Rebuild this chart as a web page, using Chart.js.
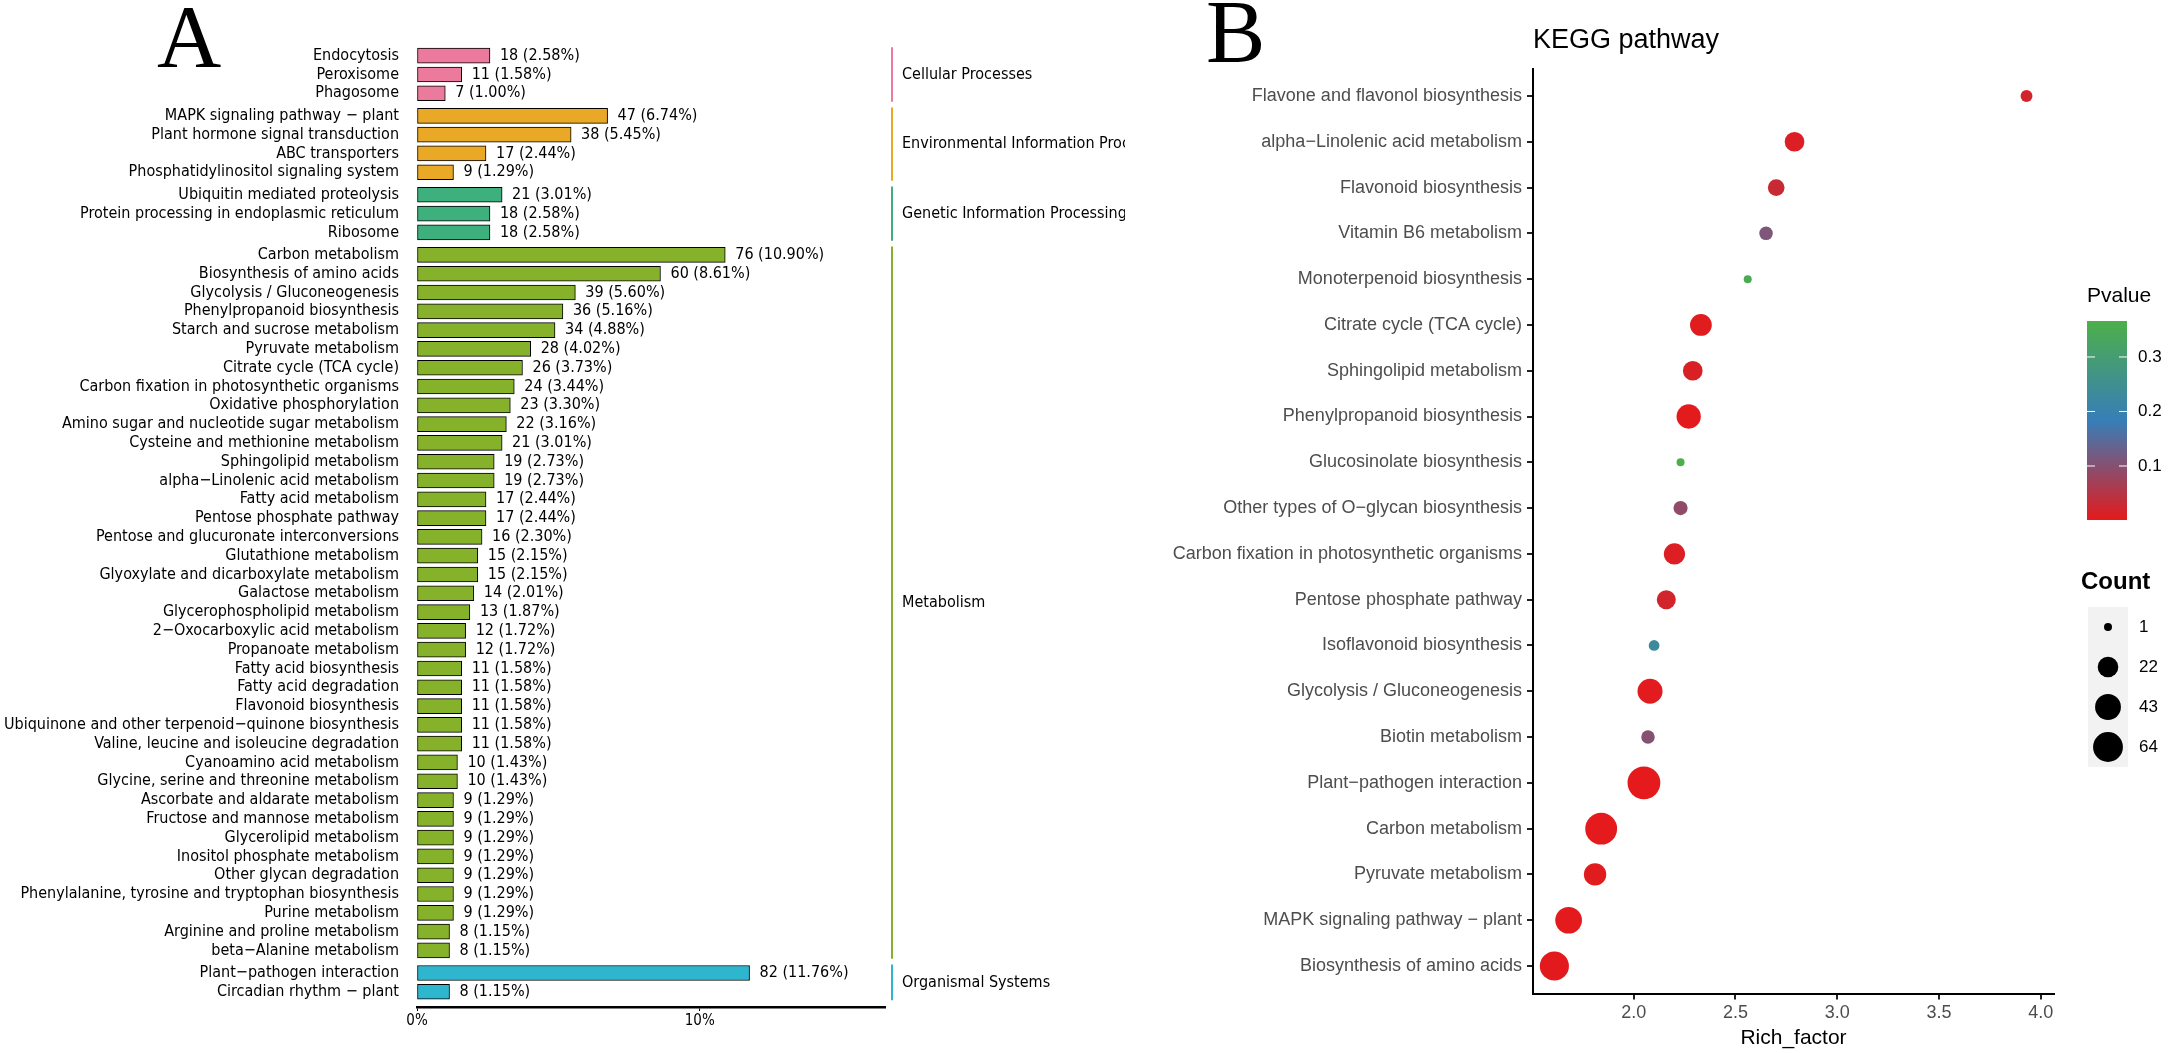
<!DOCTYPE html>
<html>
<head>
<meta charset="utf-8">
<script src="https://cdn.jsdelivr.net/npm/chart.js@4.4.1/dist/chart.umd.min.js"></script>
<style>
  html, body { margin: 0; padding: 0; background: #fff; width: 2168px; height: 1053px; overflow: hidden; }
  #wrapA { position: absolute; left: 0; top: 0; width: 1125px; height: 1053px; }
  #wrapB { position: absolute; left: 1100px; top: 0; width: 1068px; height: 1053px; }
  .tag { position: absolute; font-family: 'Liberation Serif', 'Times New Roman', serif; font-size: 89px; line-height: 89px; color: #000; }
</style>
</head>
<body>
<div id="wrapA"><canvas id="chartA" width="1125" height="1053"></canvas></div>
<div id="wrapB"><canvas id="chartB" width="1068" height="1053"></canvas></div>
<div class="tag" style="left:157px;top:-8px">A</div>
<div class="tag" style="left:1206px;top:-13px">B</div>

<script>
// ---- panel A: KEGG classification ----
const groupNames = ["Cellular Processes", "Environmental Information Processing",
  "Genetic Information Processing", "Metabolism", "Organismal Systems"];
const groupSizes = [3, 4, 3, 38, 2];
const pathwaysA = [
  "Endocytosis", "Peroxisome", "Phagosome",
  "MAPK signaling pathway − plant", "Plant hormone signal transduction", "ABC transporters",
  "Phosphatidylinositol signaling system",
  "Ubiquitin mediated proteolysis", "Protein processing in endoplasmic reticulum", "Ribosome",
  "Carbon metabolism", "Biosynthesis of amino acids", "Glycolysis / Gluconeogenesis",
  "Phenylpropanoid biosynthesis", "Starch and sucrose metabolism", "Pyruvate metabolism",
  "Citrate cycle (TCA cycle)", "Carbon fixation in photosynthetic organisms",
  "Oxidative phosphorylation", "Amino sugar and nucleotide sugar metabolism",
  "Cysteine and methionine metabolism", "Sphingolipid metabolism",
  "alpha−Linolenic acid metabolism", "Fatty acid metabolism", "Pentose phosphate pathway",
  "Pentose and glucuronate interconversions", "Glutathione metabolism",
  "Glyoxylate and dicarboxylate metabolism", "Galactose metabolism",
  "Glycerophospholipid metabolism", "2−Oxocarboxylic acid metabolism",
  "Propanoate metabolism", "Fatty acid biosynthesis", "Fatty acid degradation",
  "Flavonoid biosynthesis", "Ubiquinone and other terpenoid−quinone biosynthesis",
  "Valine, leucine and isoleucine degradation", "Cyanoamino acid metabolism",
  "Glycine, serine and threonine metabolism", "Ascorbate and aldarate metabolism",
  "Fructose and mannose metabolism", "Glycerolipid metabolism", "Inositol phosphate metabolism",
  "Other glycan degradation", "Phenylalanine, tyrosine and tryptophan biosynthesis",
  "Purine metabolism", "Arginine and proline metabolism", "beta−Alanine metabolism",
  "Plant−pathogen interaction", "Circadian rhythm − plant"
];
const countsA = [18, 11, 7, 47, 38, 17, 9, 21, 18, 18,
  76, 60, 39, 36, 34, 28, 26, 24, 23, 22, 21, 19, 19, 17, 17, 16, 15, 15, 14, 13,
  12, 12, 11, 11, 11, 11, 11, 10, 10, 9, 9, 9, 9, 9, 9, 9, 8, 8,
  82, 8];
const percentsA = [2.58, 1.58, 1.00, 6.74, 5.45, 2.44, 1.29, 3.01, 2.58, 2.58,
  10.90, 8.61, 5.60, 5.16, 4.88, 4.02, 3.73, 3.44, 3.30, 3.16, 3.01, 2.73, 2.73, 2.44, 2.44,
  2.30, 2.15, 2.15, 2.01, 1.87, 1.72, 1.72, 1.58, 1.58, 1.58, 1.58, 1.58, 1.43, 1.43,
  1.29, 1.29, 1.29, 1.29, 1.29, 1.29, 1.29, 1.15, 1.15,
  11.76, 1.15];
const xTicksA = [0, 10];

// ---- panel B: KEGG enrichment ----
const pathwaysB = [
  "Flavone and flavonol biosynthesis", "alpha−Linolenic acid metabolism",
  "Flavonoid biosynthesis", "Vitamin B6 metabolism", "Monoterpenoid biosynthesis",
  "Citrate cycle (TCA cycle)", "Sphingolipid metabolism", "Phenylpropanoid biosynthesis",
  "Glucosinolate biosynthesis", "Other types of O−glycan biosynthesis",
  "Carbon fixation in photosynthetic organisms", "Pentose phosphate pathway",
  "Isoflavonoid biosynthesis", "Glycolysis / Gluconeogenesis", "Biotin metabolism",
  "Plant−pathogen interaction", "Carbon metabolism", "Pyruvate metabolism",
  "MAPK signaling pathway − plant", "Biosynthesis of amino acids"
];
const richFactor = [3.93, 2.79, 2.70, 2.65, 2.56, 2.33, 2.29, 2.27, 2.23, 2.23,
  2.20, 2.16, 2.10, 2.08, 2.07, 2.05, 1.84, 1.81, 1.68, 1.61];
const countB = [3, 19, 11, 5, 1, 26, 19, 36, 1, 6, 24, 17, 2, 39, 5, 82, 76, 28, 47, 60];
const pvalueB = [0.02, 0.01, 0.03, 0.11, 0.35, 0.004, 0.012, 0.002, 0.366, 0.09,
  0.008, 0.02, 0.23, 0.003, 0.1, 0.0009, 0.0012, 0.004, 0.002, 0.0015];
const xTicksB = [2.0, 2.5, 3.0, 3.5, 4.0];
const pTicks = [0.1, 0.2, 0.3];
const countBreaks = [1, 22, 43, 64];

// ---- styles ----
const groupColors = ["#EC7A9C", "#E9A825", "#3DB07D", "#86B12B", "#2FB6CF"];
const condensed = "'DejaVu Sans Condensed', 'Liberation Sans Narrow', sans-serif";
const arial = "'Liberation Sans', Arial, sans-serif";
const GAP = 0.2;

const groupA = [];
groupSizes.forEach((n, g) => { for (let k = 0; k < n; k++) groupA.push(g); });
const rowPos = pathwaysA.map((_, i) => i + groupA[i] * GAP);

const barLabelsA = {
  id: 'barLabelsA',
  afterDatasetsDraw(chart) {
    const ctx = chart.ctx;
    const meta = chart.getDatasetMeta(0);
    ctx.save();
    ctx.font = '16px ' + condensed;
    ctx.fillStyle = '#000';
    ctx.textBaseline = 'middle';
    meta.data.forEach((bar, i) => {
      ctx.fillText(countsA[i] + ' (' + percentsA[i].toFixed(2) + '%)', bar.x + 10, bar.y);
    });
    const ys = chart.scales.y;
    const right = chart.chartArea.right;
    let start = 0;
    groupSizes.forEach((n, g) => {
      const y0 = ys.getPixelForValue(rowPos[start] - 0.5) + 1;
      const y1 = ys.getPixelForValue(rowPos[start + n - 1] + 0.5) - 1;
      ctx.strokeStyle = groupColors[g];
      ctx.lineWidth = 2;
      ctx.beginPath();
      ctx.moveTo(right + 7, y0);
      ctx.lineTo(right + 7, y1);
      ctx.stroke();
      ctx.fillStyle = '#000';
      ctx.textAlign = 'left';
      ctx.fillText(groupNames[g], right + 17, (y0 + y1) / 2);
      start += n;
    });
    ctx.restore();
  }
};

new Chart(document.getElementById('chartA'), {
  type: 'bar',
  data: {
    labels: pathwaysA,
    datasets: [{
      data: percentsA.map((p, i) => ({ x: p, y: rowPos[i] })),
      backgroundColor: groupA.map(g => groupColors[g]),
      borderColor: '#000',
      borderWidth: 1,
      borderSkipped: false,
      barThickness: 15
    }]
  },
  options: {
    indexAxis: 'y',
    responsive: false,
    animation: false,
    events: [],
    layout: { padding: { top: 46.3, right: 240, bottom: 16, left: 0 } },
    plugins: { legend: { display: false }, tooltip: { enabled: false } },
    scales: {
      x: {
        type: 'linear', min: 0, max: 16.55,
        afterBuildTicks: s => { s.ticks = xTicksA.map(v => ({ value: v })); },
        afterFit: s => { s.height = 30; },
        ticks: { callback: v => v + '%', font: { family: condensed, size: 15 }, color: '#000', padding: 1 },
        grid: { display: true, drawOnChartArea: false, drawTicks: true, tickLength: 4, color: '#000', lineWidth: 1 },
        border: { display: true, color: '#000', width: 2.5 }
      },
      y: {
        type: 'linear', reverse: true, offset: false,
        min: -0.5, max: rowPos[rowPos.length - 1] + 0.81,
        afterBuildTicks: s => { s.ticks = rowPos.map(v => ({ value: v })); },
        afterFit: s => { s.width = 417; },
        ticks: { autoSkip: false, callback: (v, i) => pathwaysA[i], font: { family: condensed, size: 16 }, color: '#000', padding: 18 },
        grid: { display: false, drawTicks: false, offset: false },
        border: { display: false }
      }
    }
  },
  plugins: [barLabelsA]
});

// ---- panel B helpers ----
const pMin = Math.min(...pvalueB), pMax = Math.max(...pvalueB);
const cMin = Math.min(...countB), cMax = Math.max(...countB);
const pStops = [[228, 26, 28], [55, 126, 184], [77, 175, 74]];
function pColor(p) {
  const t = Math.max(0, Math.min(1, (p - pMin) / (pMax - pMin))) * 2;
  const k = Math.min(1, Math.floor(t));
  const f = t - k;
  const a = pStops[k], b = pStops[k + 1];
  const c = a.map((v, j) => Math.round(v + (b[j] - v) * f));
  return 'rgb(' + c.join(',') + ')';
}
function sizeFor(c) {
  return 4 + 12.4 * Math.sqrt((c - cMin) / (cMax - cMin));
}

const legendB = {
  id: 'legendB',
  afterDraw(chart) {
    const ctx = chart.ctx;
    const area = chart.chartArea;
    ctx.save();
    // title
    ctx.fillStyle = '#000';
    ctx.font = '27px ' + arial;
    ctx.textBaseline = 'middle';
    ctx.textAlign = 'left';
    ctx.fillText('KEGG pathway', area.left, 41);

    // Pvalue colour bar
    const bx = 987, bw = 40, top = 321, bot = 520;
    ctx.font = '21px ' + arial;
    ctx.fillText('Pvalue', bx, 296);
    const grad = ctx.createLinearGradient(0, bot, 0, top);
    grad.addColorStop(0, pColor(pMin));
    grad.addColorStop(0.5, pColor((pMin + pMax) / 2));
    grad.addColorStop(1, pColor(pMax));
    ctx.fillStyle = grad;
    ctx.fillRect(bx, top, bw, bot - top);
    ctx.font = '17px ' + arial;
    pTicks.forEach(v => {
      const y = bot - (v - pMin) / (pMax - pMin) * (bot - top);
      ctx.strokeStyle = '#fff';
      ctx.lineWidth = 1;
      ctx.beginPath();
      ctx.moveTo(bx, y); ctx.lineTo(bx + 8, y);
      ctx.moveTo(bx + bw - 8, y); ctx.lineTo(bx + bw, y);
      ctx.stroke();
      ctx.fillStyle = '#000';
      ctx.fillText(v.toFixed(1), bx + 51, y);
    });

    // Count size legend
    ctx.font = 'bold 24px ' + arial;
    ctx.fillText('Count', 981, 582);
    const kx = 988, ky = 607, kh = 40;
    ctx.fillStyle = '#F2F2F2';
    ctx.fillRect(kx, ky, 40, kh * countBreaks.length);
    ctx.font = '17px ' + arial;
    countBreaks.forEach((c, i) => {
      const cy = ky + kh * i + kh / 2;
      ctx.fillStyle = '#000';
      ctx.beginPath();
      ctx.arc(kx + 20, cy, sizeFor(c), 0, Math.PI * 2);
      ctx.fill();
      ctx.fillText(String(c), kx + 51, cy);
    });
    ctx.restore();
  }
};

new Chart(document.getElementById('chartB'), {
  type: 'bubble',
  data: {
    datasets: [{
      data: pathwaysB.map((_, i) => ({ x: richFactor[i], y: i, r: sizeFor(countB[i]) })),
      backgroundColor: pvalueB.map(pColor),
      borderWidth: 0,
      hoverRadius: 0
    }]
  },
  options: {
    responsive: false,
    animation: false,
    events: [],
    layout: { padding: { top: 68.5, right: 114, bottom: 0, left: 0 } },
    plugins: { legend: { display: false }, tooltip: { enabled: false } },
    scales: {
      x: {
        type: 'linear', min: 1.505, max: 4.065,
        afterBuildTicks: s => { s.ticks = xTicksB.map(v => ({ value: v })); },
        afterFit: s => { s.height = 59.5; },
        ticks: { callback: v => v.toFixed(1), font: { family: arial, size: 18 }, color: '#4D4D4D', padding: 3 },
        grid: { display: true, drawOnChartArea: false, drawTicks: true, tickLength: 6, color: '#222', lineWidth: 2 },
        border: { display: true, color: '#000', width: 2 },
        title: { display: true, text: 'Rich_factor', font: { family: arial, size: 21 }, color: '#000', padding: { top: 0, bottom: 2 } }
      },
      y: {
        type: 'linear', reverse: true, min: -0.6, max: pathwaysB.length - 0.4,
        afterBuildTicks: s => { s.ticks = pathwaysB.map((_, i) => ({ value: i })); },
        afterFit: s => { s.width = 433; },
        ticks: { autoSkip: false, callback: (v, i) => pathwaysB[i], font: { family: arial, size: 18 }, color: '#4D4D4D', padding: 5 },
        grid: { display: true, drawOnChartArea: false, drawTicks: true, tickLength: 6, color: '#222', lineWidth: 2 },
        border: { display: true, color: '#000', width: 2 }
      }
    }
  },
  plugins: [legendB]
});
</script>
</body>
</html>
